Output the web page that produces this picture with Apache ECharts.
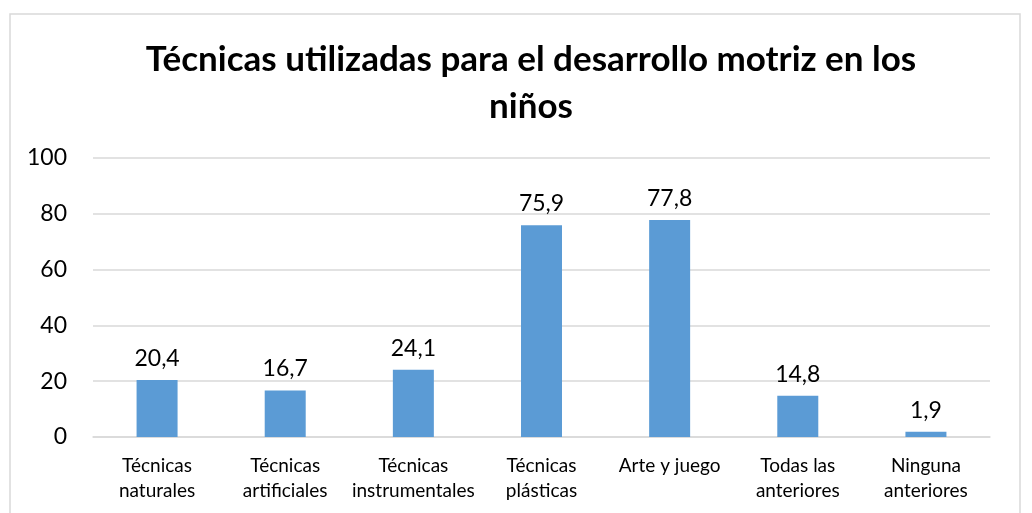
<!DOCTYPE html>
<html><head><meta charset="utf-8">
<script src="https://cdn.jsdelivr.net/npm/echarts@6/dist/echarts.min.js"></script>
<style>html,body{margin:0;padding:0;background:#fff}#c{width:1032px;height:513px}</style>
</head><body><div id="c"></div>
<script>
const categories = ["Técnicas\nnaturales","Técnicas\nartificiales","Técnicas\ninstrumentales","Técnicas\nplásticas","Arte y juego","Todas las\nanteriores","Ninguna\nanteriores"];
const values = [20.4,16.7,24.1,75.9,77.8,14.8,1.9];
const titleText = "Técnicas utilizadas para el desarrollo motriz en los\nniños";
const chart = echarts.init(document.getElementById('c'));
const font = "Lato, 'Open Sans', sans-serif";
chart.setOption({
  animation:false,
  graphic:[{type:'rect',shape:{x:10,y:14,width:1010,height:520},style:{fill:'none',stroke:'#d9d9d9',lineWidth:1.5},silent:true}],
  title:{text:titleText,left:526,textAlign:'center',top:31,textStyle:{fontFamily:font,fontSize:35,fontWeight:'bold',color:'#000',lineHeight:47}},
  grid:{left:93,right:42,top:158,bottom:76},
  xAxis:{type:'category',data:categories,axisTick:{show:false},axisLine:{lineStyle:{color:'#d9d9d9',width:1.5}},
    axisLabel:{interval:0,margin:16,fontFamily:font,fontSize:19,color:'#000',lineHeight:25}},
  yAxis:{type:'value',min:0,max:100,interval:20,axisLine:{show:false},axisTick:{show:false},
    splitLine:{lineStyle:{color:'#d9d9d9',width:1.5}},
    axisLabel:{margin:26,fontFamily:font,fontSize:23,color:'#000'}},
  series:[{type:'bar',data:values,barWidth:41,itemStyle:{color:'#5B9BD5'},
    label:{show:true,position:'top',distance:10,fontFamily:font,fontSize:23,color:'#000',
      formatter:p=>String(p.value).replace('.',',')}}]
});
</script></body></html>
